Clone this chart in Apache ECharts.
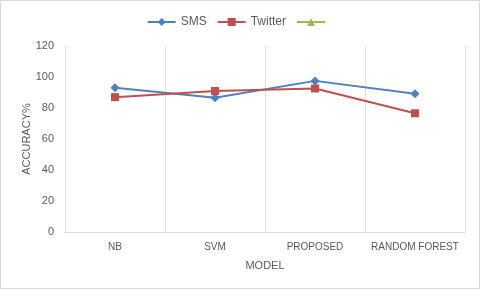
<!DOCTYPE html>
<html>
<head>
<meta charset="utf-8">
<script src="https://cdn.jsdelivr.net/npm/echarts@6/dist/echarts.min.js"></script>
<style>
html,body{margin:0;padding:0;background:#fff;}
#c{width:478px;height:287px;border:1px solid #d9d9d9;}
</style>
</head>
<body>
<div id="c"></div>
<script>
var categories = ['NB', 'SVM', 'PROPOSED', 'RANDOM FOREST'];
var smsValues = [93, 86.6, 97.5, 89.2];
var twitterValues = [87, 91, 92.6, 76.6];
var thirdValues = [];
var yTicks = [0, 20, 40, 60, 80, 100, 120];

var chart = echarts.init(document.getElementById('c'), null, {renderer: 'canvas'});
var font = 'Liberation Sans, Arial, sans-serif';
chart.setOption({
  animation: false,
  textStyle: {fontFamily: font},
  legend: {
    top: 10,
    left: 'center',
    itemWidth: 28,
    itemHeight: 10,
    itemGap: 10,
    textStyle: {color: '#595959', fontSize: 12, fontFamily: font},
    data: ['SMS', 'Twitter', ' ']
  },
  grid: {left: 64, right: 14, top: 45, bottom: 56},
  xAxis: {
    type: 'category',
    data: categories,
    boundaryGap: true,
    name: 'MODEL',
    nameLocation: 'middle',
    nameGap: 28,
    nameTextStyle: {color: '#595959', fontSize: 11},
    axisLine: {lineStyle: {color: '#d9d9d9'}},
    axisTick: {show: false},
    axisLabel: {color: '#595959', fontSize: 10, margin: 10, interval: 0},
    splitLine: {show: true, lineStyle: {color: '#e0e0e0'}}
  },
  yAxis: {
    type: 'value',
    min: yTicks[0],
    max: yTicks[yTicks.length - 1],
    interval: 20,
    name: 'ACCURACY%',
    nameLocation: 'middle',
    nameGap: 33,
    nameMoveOverlap: false,
    nameRotate: 90,
    nameTextStyle: {color: '#595959', fontSize: 11},
    axisLine: {show: false},
    axisTick: {show: false},
    axisLabel: {color: '#595959', fontSize: 11, margin: 11},
    splitLine: {show: false}
  },
  series: [
    {
      name: 'SMS', type: 'line', data: smsValues,
      symbol: 'diamond', symbolSize: 9,
      itemStyle: {color: '#4F81BD'},
      lineStyle: {color: '#4F81BD', width: 2}
    },
    {
      name: 'Twitter', type: 'line', data: twitterValues,
      symbol: 'rect', symbolSize: 8,
      itemStyle: {color: '#C0504D'},
      lineStyle: {color: '#C0504D', width: 2}
    },
    {
      name: ' ', type: 'line', data: thirdValues,
      symbol: 'triangle', symbolSize: 8,
      itemStyle: {color: '#9BBB59'},
      lineStyle: {color: '#9BBB59', width: 2}
    }
  ]
});
</script>
</body>
</html>
